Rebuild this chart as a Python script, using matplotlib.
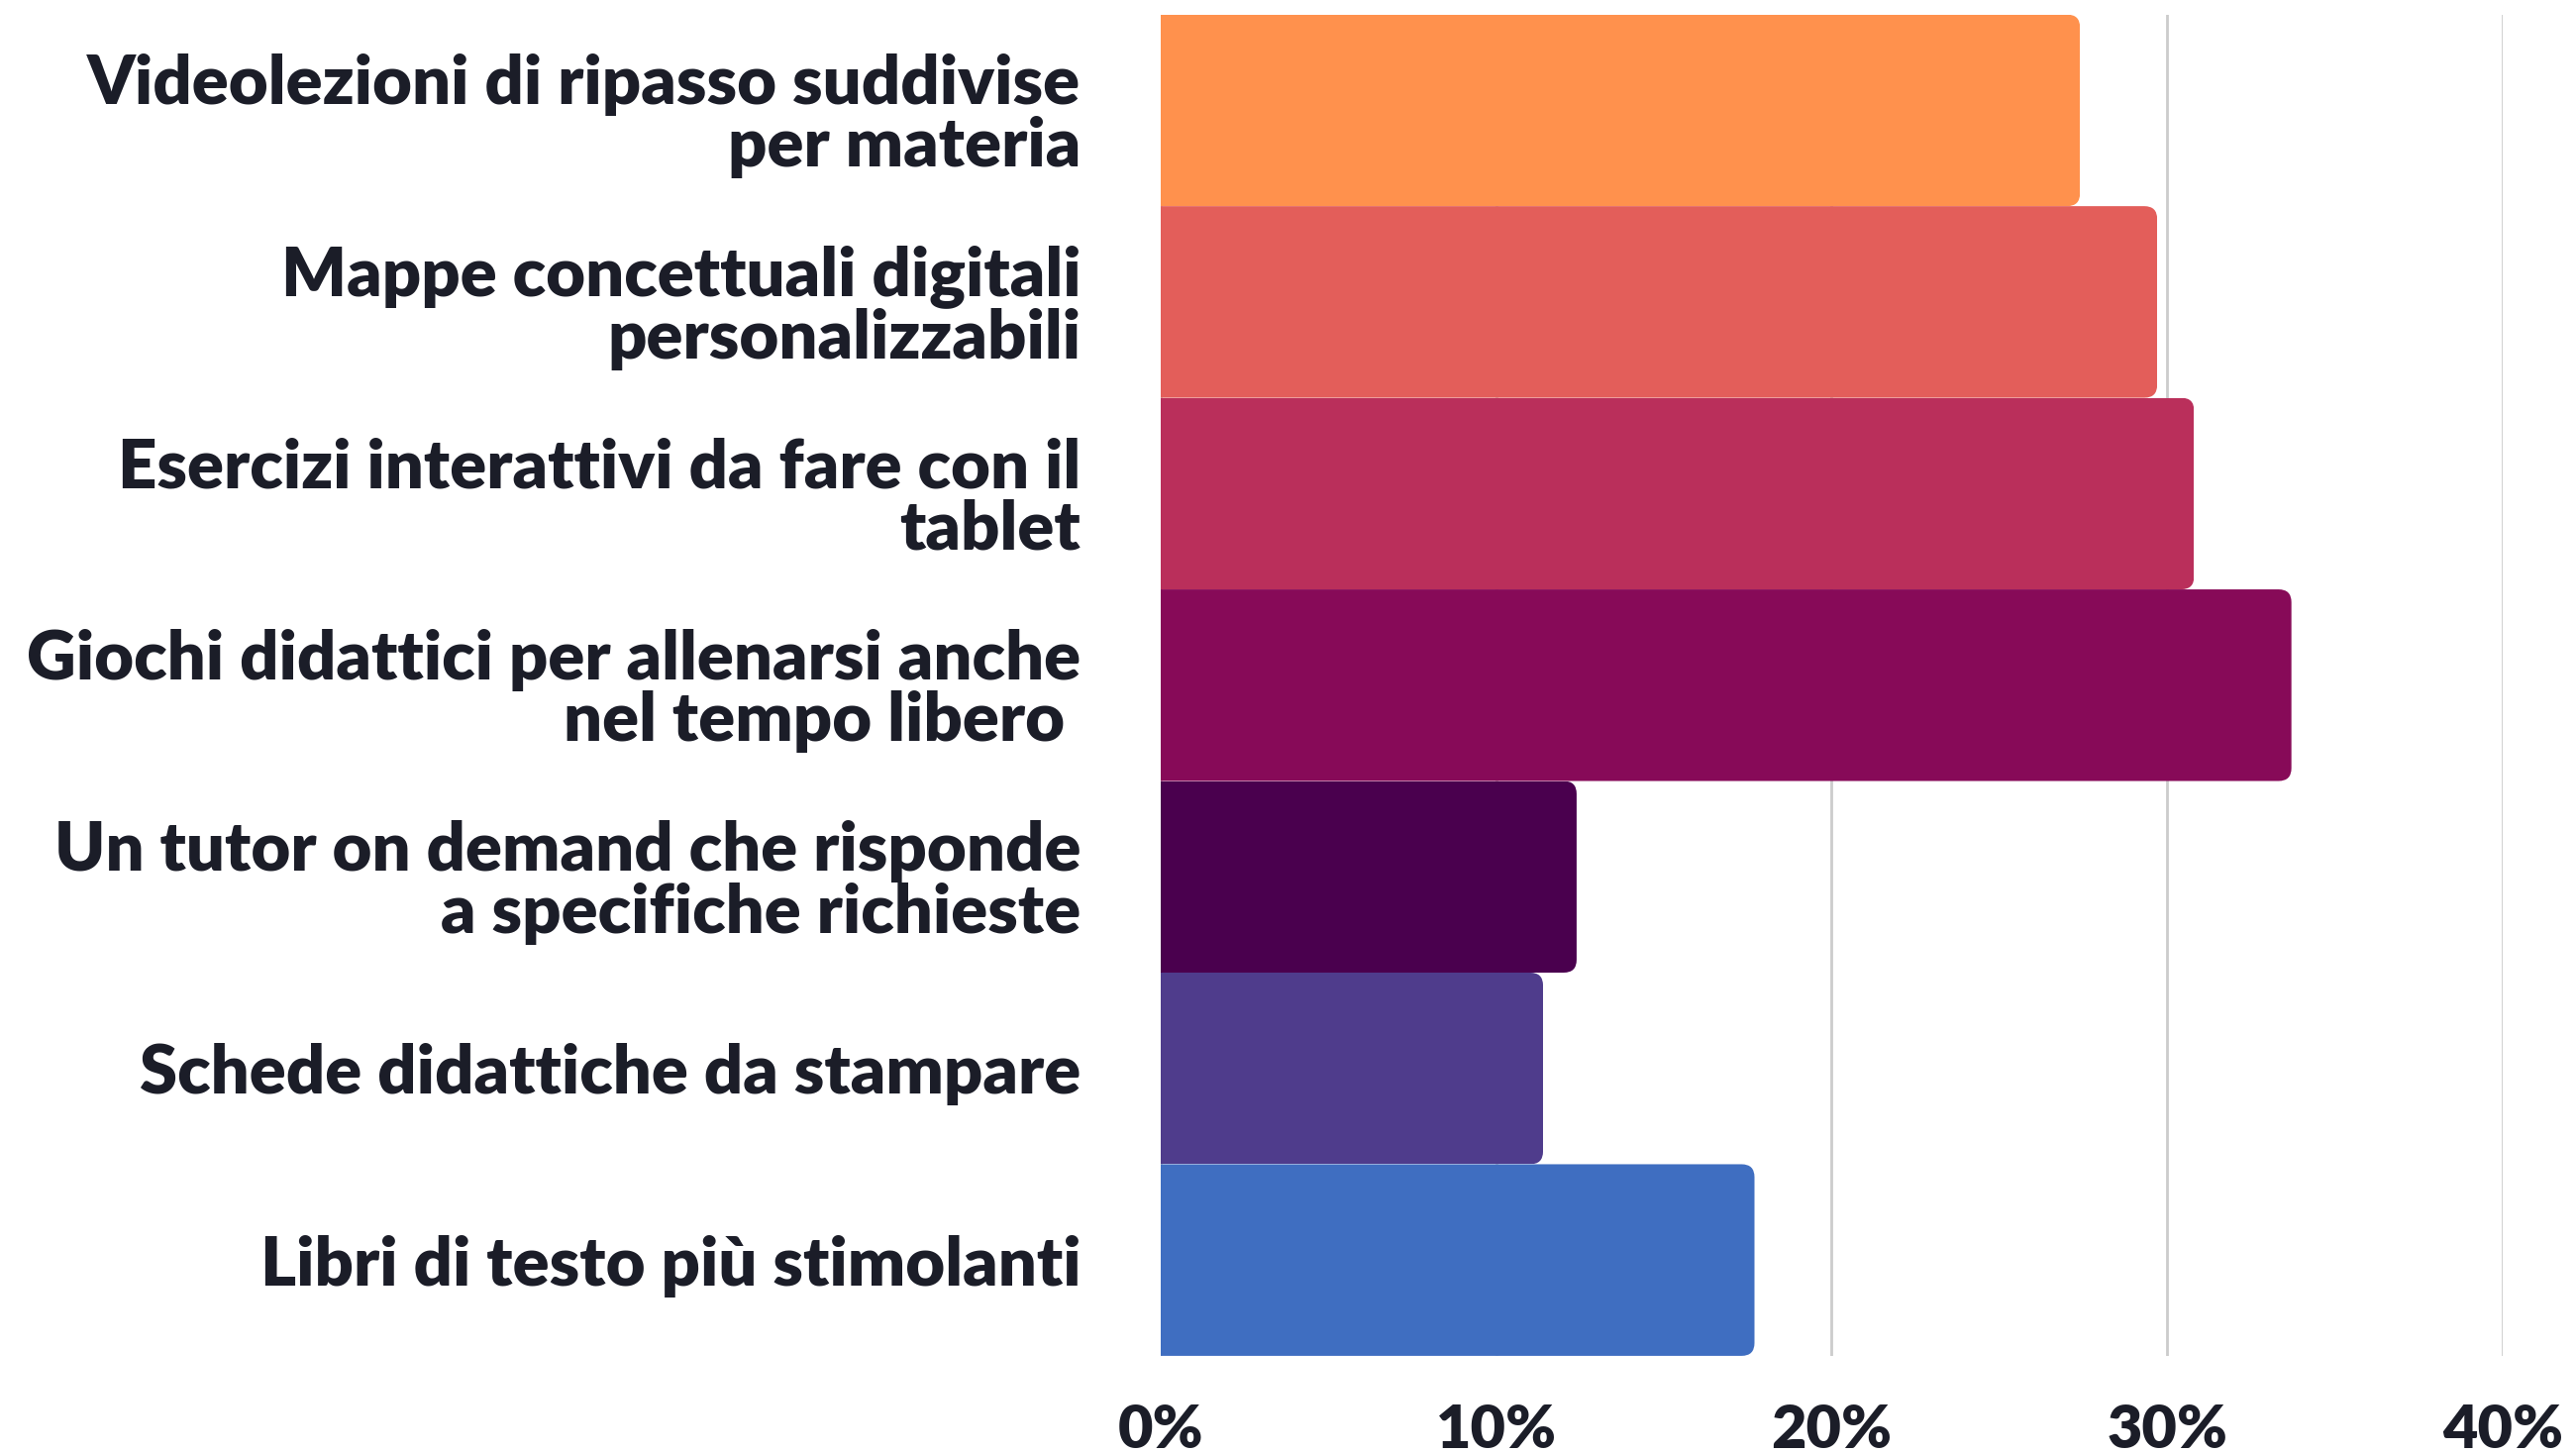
import matplotlib
matplotlib.use("Agg")
import matplotlib.pyplot as plt
from matplotlib.patches import FancyBboxPatch
from matplotlib.ticker import FuncFormatter

# dati (in ordine dall'alto verso il basso)
labels = [
    "Videolezioni di ripasso suddivise\nper materia",
    "Mappe concettuali digitali\npersonalizzabili",
    "Esercizi interattivi da fare con il\ntablet",
    "Giochi didattici per allenarsi anche\nnel tempo libero ",
    "Un tutor on demand che risponde\na specifiche richieste",
    "Schede didattiche da stampare",
    "Libri di testo più stimolanti",
]
values = [27.4, 29.7, 30.8, 33.7, 12.4, 11.4, 17.7]
colors = ["#FF914D", "#E35E5A", "#BA2F5B", "#870A58", "#4A004E", "#4F3C8C", "#3F6EC1"]
xticks = [0, 10, 20, 30, 40]

TEXT = "#1B1D28"
FONT = ["Lato", "DejaVu Sans"]

fig = plt.figure(figsize=(26.01, 14.68), dpi=100)
ax = fig.add_axes([0.4505, 0.0675, 0.5211, 0.9225])

ypos = list(range(len(values)))
bars = ax.barh(ypos, values, height=1.0, color=colors, linewidth=0, zorder=2)

ax.set_xlim(0, 40)
ax.set_ylim(len(values) - 0.5, -0.5)

# estremità destra arrotondata: clip con un box arrotondato che parte fuori a sinistra
fig.canvas.draw()
px_per_x = ax.transData.transform((1, 0))[0] - ax.transData.transform((0, 0))[0]
px_per_y = abs(ax.transData.transform((0, 1))[1] - ax.transData.transform((0, 0))[1])
r_px = 13
for b, v in zip(bars, values):
    y0 = b.get_y()
    clip = FancyBboxPatch((-3, y0), v + 3, b.get_height(),
                          boxstyle=f"round,pad=0,rounding_size={r_px / px_per_x}",
                          mutation_aspect=px_per_x / px_per_y,
                          transform=ax.transData)
    b.set_clip_path(clip)

ax.set_xticks(xticks)
ax.xaxis.set_major_formatter(FuncFormatter(lambda x, _: f"{x:.0f}%"))
ax.grid(axis="x", color="#CCCCCC", linewidth=2, zorder=0)
ax.set_axisbelow(True)
for s in ax.spines.values():
    s.set_visible(False)
ax.tick_params(axis="x", length=0, pad=34, labelsize=44, labelcolor=TEXT)
ax.tick_params(axis="y", length=0, pad=58)
ax.set_yticks(ypos)
ax.set_yticklabels(labels, fontsize=49.5, color=TEXT, fontweight="heavy",
                   family=FONT, linespacing=0.99)
for t in ax.get_xticklabels():
    t.set_fontweight("heavy")
    t.set_family(FONT)

fig.savefig("out.png", dpi=100, facecolor="white")
